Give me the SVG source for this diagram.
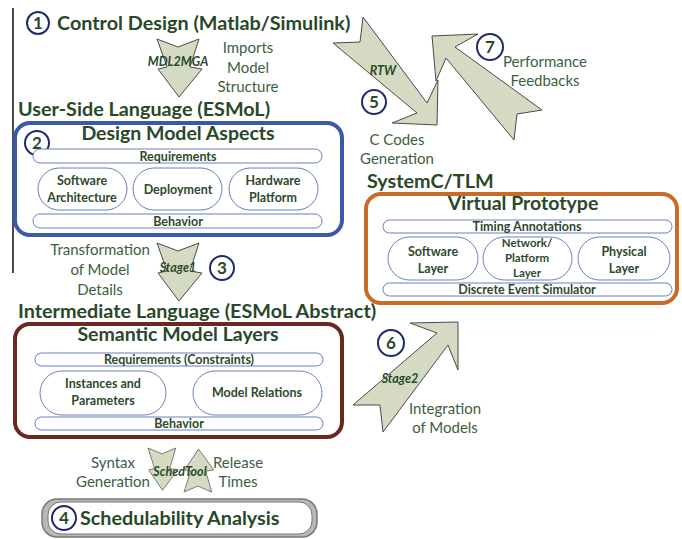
<svg xmlns="http://www.w3.org/2000/svg" width="682" height="539" viewBox="0 0 682 539">
<style>
text{font-family:Lato,"Liberation Sans",sans-serif}
.title{font-size:19.8px;font-weight:bold;fill:#284828}
.head{font-size:19.5px;font-weight:bold;fill:#284828;text-anchor:middle}
.lbl{font-size:15px;fill:#3e5e3e;text-anchor:middle}
.it{font-size:12.5px;font-weight:bold;font-style:italic;fill:#2a4a2a;text-anchor:middle}
.pt{font-size:12.5px;font-weight:bold;fill:#2d4a2d;text-anchor:middle}
.pts{font-size:11.5px;font-weight:bold;fill:#2d4a2d;text-anchor:middle}
.num{font-size:17px;font-weight:bold;fill:#2a4a2a;text-anchor:middle}
.circ{fill:#fff;stroke:#1f2a6b;stroke-width:2}
.pill{fill:#fff;stroke:#6a7fc0;stroke-width:1}
.arr{fill:#d5dbc3;stroke:#4a4a4a;stroke-width:1;stroke-linejoin:miter}
</style>
<defs>
<polygon id="dn" points="0,0 21,8 42,0 33,28 45,30 22,58 1,30 10,28"/>
</defs>
<line x1="13" y1="8" x2="13" y2="273" stroke="#111" stroke-width="1.5"/>

<g id="connectors">
<use href="#dn" class="arr" transform="translate(157,39)"/>
<use href="#dn" class="arr" transform="translate(157,243)"/>
<use href="#dn" class="arr" transform="translate(148,448) scale(0.66,0.73)"/>
<use href="#dn" class="arr" transform="translate(184,492) scale(0.66,-0.74)"/>
<polygon class="arr" points="363,17 427,103 438,80 437,125 392,123 417,113 333,43 360,42"/>
<polygon class="arr" points="432,36 478,34 455,47 542,110 517,114 514,140 446,58 436,81"/>
<polygon class="arr" points="458,322 410,323 437,333 353,405 380,405 383,432 448,345 458,370"/>
<text class="it" x="178" y="66">MDL2MGA</text>
<text class="it" x="178" y="272">Stage1</text>
<text class="it" x="180" y="476">SchedTool</text>
<text class="it" x="383" y="75">RTW</text>
<text class="it" x="400" y="383">Stage2</text>
<text class="lbl" x="248" y="53">Imports</text>
<text class="lbl" x="248" y="73">Model</text>
<text class="lbl" x="248" y="92">Structure</text>
<text class="lbl" x="100" y="255">Transformation</text>
<text class="lbl" x="100" y="275">of Model</text>
<text class="lbl" x="100" y="295">Details</text>
<text class="lbl" x="113" y="468">Syntax</text>
<text class="lbl" x="113" y="487">Generation</text>
<text class="lbl" x="238" y="468">Release</text>
<text class="lbl" x="238" y="487">Times</text>
<text class="lbl" x="397" y="145">C Codes</text>
<text class="lbl" x="397" y="164">Generation</text>
<text class="lbl" x="545" y="67">Performance</text>
<text class="lbl" x="545" y="86">Feedbacks</text>
<text class="lbl" x="445" y="414">Integration</text>
<text class="lbl" x="445" y="433">of Models</text>
</g>

<g id="n1">
<circle class="circ" cx="38" cy="23" r="11"/>
<text class="num" x="38" y="29">1</text>
<text class="title" x="57" y="30">Control Design (Matlab/Simulink)</text>
</g>

<g id="n2">
<text class="title" x="18" y="116">User-Side Language (ESMoL)</text>
<rect x="15" y="123" width="327" height="112" rx="15" fill="#fff" stroke="#3a5aa8" stroke-width="4"/>
<text class="head" x="178" y="140">Design Model Aspects</text>
<circle class="circ" cx="37" cy="143" r="12"/>
<text class="num" x="37" y="149">2</text>
<rect class="pill" x="33" y="149" width="289" height="14" rx="7"/>
<text class="pt" x="178" y="160.5">Requirements</text>
<rect class="pill" x="38" y="168" width="89" height="42" rx="21"/>
<text class="pt" x="82" y="185">Software</text>
<text class="pt" x="82" y="202">Architecture</text>
<rect class="pill" x="133" y="168" width="89" height="42" rx="21"/>
<text class="pt" x="178" y="193.5">Deployment</text>
<rect class="pill" x="229" y="168" width="89" height="42" rx="21"/>
<text class="pt" x="273" y="185">Hardware</text>
<text class="pt" x="273" y="202">Platform</text>
<rect class="pill" x="33" y="214" width="289" height="14" rx="7"/>
<text class="pt" x="178" y="225.5">Behavior</text>
</g>

<g id="n3">
<circle class="circ" cx="222" cy="268" r="12"/>
<text class="num" x="222" y="274">3</text>
<text class="title" x="18" y="318">Intermediate Language (ESMoL Abstract)</text>
<rect x="15" y="324" width="327" height="113" rx="15" fill="#fff" stroke="#6a2820" stroke-width="4"/>
<text class="head" x="178" y="341">Semantic Model Layers</text>
<rect class="pill" x="35" y="353" width="288" height="13" rx="6.5"/>
<text class="pt" x="179" y="364">Requirements (Constraints)</text>
<rect class="pill" x="40" y="371" width="126" height="44" rx="22"/>
<text class="pt" x="103" y="388">Instances and</text>
<text class="pt" x="103" y="405">Parameters</text>
<rect class="pill" x="193" y="371" width="129" height="44" rx="22"/>
<text class="pt" x="257" y="397">Model Relations</text>
<rect class="pill" x="35" y="417" width="288" height="13" rx="6.5"/>
<text class="pt" x="179" y="428">Behavior</text>
</g>

<g id="n4">
<rect x="42" y="499" width="275" height="38" rx="15" fill="#b8b8b8" stroke="#777" stroke-width="1.5"/>
<rect x="48" y="502" width="264" height="32" rx="13" fill="#fff" stroke="#777" stroke-width="1"/>
<circle class="circ" cx="64" cy="518" r="12"/>
<text class="num" x="64" y="524">4</text>
<text class="title" x="80" y="525">Schedulability Analysis</text>
</g>

<g id="n5">
<circle class="circ" cx="374" cy="102" r="12"/>
<text class="num" x="374" y="108">5</text>
</g>

<g id="n6">
<circle class="circ" cx="391" cy="343" r="13"/>
<text class="num" x="391" y="349">6</text>
</g>

<g id="n7">
<circle class="circ" cx="490" cy="47" r="13"/>
<text class="num" x="490" y="53">7</text>
</g>

<g id="n8">
<text class="title" x="367" y="188">SystemC/TLM</text>
<rect x="366" y="194" width="311" height="109" rx="15" fill="#fff" stroke="#c86a28" stroke-width="4"/>
<text class="head" x="523" y="210">Virtual Prototype</text>
<rect class="pill" x="383" y="220" width="289" height="13" rx="6.5"/>
<text class="pt" x="527" y="231">Timing Annotations</text>
<rect class="pill" x="388" y="237" width="90" height="43" rx="21.5"/>
<text class="pt" x="433" y="256">Software</text>
<text class="pt" x="433" y="273">Layer</text>
<rect class="pill" x="483" y="237" width="89" height="43" rx="21.5"/>
<text class="pts" x="527" y="247">Network/</text>
<text class="pts" x="527" y="262">Platform</text>
<text class="pts" x="527" y="277">Layer</text>
<rect class="pill" x="578" y="237" width="92" height="43" rx="21.5"/>
<text class="pt" x="624" y="256">Physical</text>
<text class="pt" x="624" y="273">Layer</text>
<rect class="pill" x="383" y="283" width="289" height="13" rx="6.5"/>
<text class="pt" x="527" y="294">Discrete Event Simulator</text>
</g>
</svg>
